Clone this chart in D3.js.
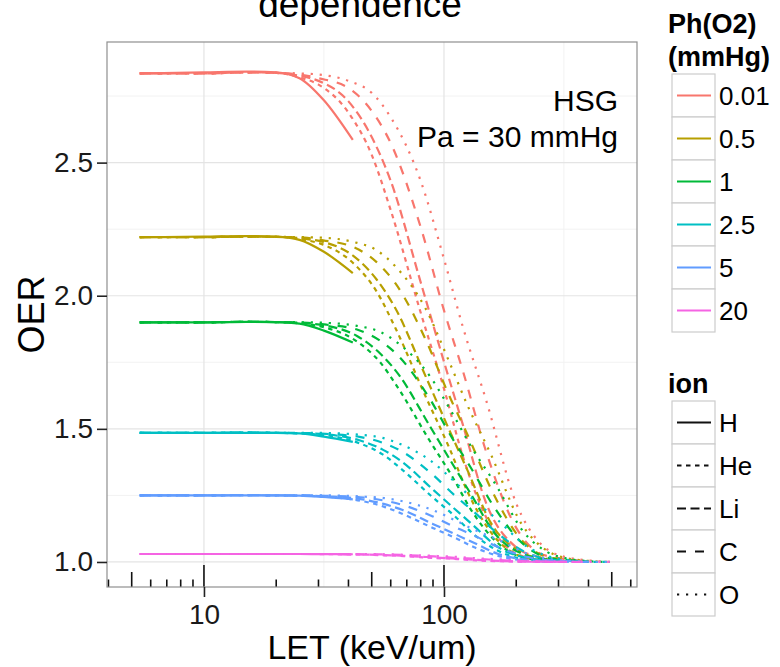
<!DOCTYPE html>
<html>
<head>
<meta charset="utf-8">
<script src="https://cdn.jsdelivr.net/npm/d3@7"></script>
<style>
  body { margin: 0; background: #fff; }
  text { font-family: "Liberation Sans", Arial, Helvetica, sans-serif; }
</style>
</head>
<body>
<svg id="chart" width="780" height="667"></svg>
<script>
// oxygen pressures (legend 1) and ions (legend 2)
const pressures = ["0.01", "0.5", "1", "2.5", "5", "20"];
const pressureColors = ["#F8766D", "#B79F00", "#00BA38", "#00BFC4", "#619CFF", "#F564E3"];
const ions = ["H", "He", "Li", "C", "O"];
const ionDashes = [null, "4.5,4.5", "9,4.5", "9,9", "2.2,6.8"];

// LET sample points (keV/um); H has its own short range
const letH = [5.4, 10, 15, 20, 25, 31.6, 41.7];
const letP001 = [5.4, 10, 15, 20, 25, 30, 40, 50, 60, 80, 100, 120, 150, 200, 250, 300, 400, 490];
const letP05 = [5.4, 10, 15, 20, 26.2, 31.4, 41.9, 52.4, 62.8, 83.8, 104.7, 125.6, 157, 209.4, 261.8, 314, 400, 490];
const letP1 = [5.4, 10, 15, 20, 27.1, 32.5, 43.4, 54.2, 65, 86.7, 108.4, 130, 162.6, 216.8, 271, 325, 400, 490];
const letP25 = [5.4, 10, 15, 20, 27.7, 33.3, 44.4, 55.5, 66.5, 88.7, 110.9, 133, 166.4, 221.8, 277, 333, 400, 490];
const letP5 = [5.4, 10, 15, 20, 28, 33.7, 44.9, 56.1, 67.3, 89.8, 112.2, 134.6, 168.3, 224.4, 280.5, 336.6, 400, 490];
const letP20 = [5.4, 10, 15, 20, 28.4, 34, 45.4, 56.8, 68.1, 90.8, 113.5, 136.2, 170.3, 227, 283.8, 340.5, 400, 490];

// OER per ion [H, He, Li, C, O] for each pressure
const oerP001 = [
  [2.835, 2.839, 2.842, 2.839, 2.817, 2.734, 2.585],
  [2.835, 2.835, 2.839, 2.837, 2.820, 2.793, 2.688, 2.529, 2.321, 1.936, 1.651, 1.395, 1.167, 1.031, 1.009],
  [2.835, 2.835, 2.839, 2.837, 2.826, 2.807, 2.730, 2.596, 2.431, 2.050, 1.752, 1.514, 1.220, 1.055, 1.018, 1.006],
  [2.835, 2.835, 2.839, 2.837, 2.831, 2.817, 2.780, 2.694, 2.573, 2.257, 1.945, 1.716, 1.413, 1.128, 1.033, 1.015, 1.002],
  [2.835, 2.835, 2.839, 2.837, 2.835, 2.831, 2.807, 2.762, 2.670, 2.431, 2.138, 1.881, 1.606, 1.220, 1.073, 1.026, 1.006, 1.000]
];
const oerP05 = [
  [2.220, 2.222, 2.224, 2.222, 2.210, 2.165, 2.085],
  [2.220, 2.220, 2.222, 2.221, 2.210, 2.192, 2.122, 2.016, 1.878, 1.622, 1.433, 1.262, 1.111, 1.021, 1.006],
  [2.220, 2.220, 2.222, 2.221, 2.214, 2.202, 2.150, 2.061, 1.952, 1.698, 1.500, 1.342, 1.146, 1.037, 1.012, 1.004],
  [2.220, 2.220, 2.222, 2.221, 2.218, 2.208, 2.183, 2.126, 2.046, 1.836, 1.628, 1.476, 1.275, 1.085, 1.022, 1.010, 1.001],
  [2.220, 2.220, 2.222, 2.221, 2.220, 2.218, 2.202, 2.171, 2.110, 1.952, 1.756, 1.586, 1.403, 1.146, 1.049, 1.017, 1.004, 1.000]
];
const oerP1 = [
  [1.900, 1.900, 1.902, 1.901, 1.895, 1.869, 1.824],
  [1.900, 1.900, 1.902, 1.901, 1.893, 1.879, 1.828, 1.750, 1.648, 1.459, 1.320, 1.194, 1.082, 1.015, 1.005],
  [1.900, 1.900, 1.902, 1.901, 1.896, 1.887, 1.849, 1.783, 1.702, 1.515, 1.369, 1.252, 1.108, 1.027, 1.009, 1.003],
  [1.900, 1.900, 1.902, 1.901, 1.898, 1.891, 1.873, 1.831, 1.771, 1.617, 1.464, 1.351, 1.203, 1.063, 1.016, 1.007, 1.001],
  [1.900, 1.900, 1.902, 1.901, 1.900, 1.898, 1.887, 1.864, 1.819, 1.702, 1.558, 1.432, 1.297, 1.108, 1.036, 1.013, 1.003, 1.000]
];
const oerP25 = [
  [1.485, 1.485, 1.485, 1.485, 1.483, 1.471, 1.451],
  [1.485, 1.485, 1.486, 1.485, 1.481, 1.474, 1.446, 1.404, 1.349, 1.247, 1.172, 1.104, 1.044, 1.008, 1.002],
  [1.485, 1.485, 1.486, 1.485, 1.483, 1.478, 1.457, 1.422, 1.378, 1.277, 1.199, 1.136, 1.058, 1.015, 1.005, 1.001],
  [1.485, 1.485, 1.486, 1.485, 1.484, 1.480, 1.470, 1.448, 1.416, 1.332, 1.250, 1.189, 1.109, 1.034, 1.009, 1.004, 1.000],
  [1.485, 1.485, 1.486, 1.485, 1.485, 1.484, 1.478, 1.466, 1.441, 1.378, 1.301, 1.233, 1.160, 1.058, 1.019, 1.007, 1.001, 1.000]
];
const oerP5 = [
  [1.250, 1.250, 1.250, 1.250, 1.249, 1.244, 1.235],
  [1.250, 1.250, 1.251, 1.250, 1.248, 1.244, 1.230, 1.208, 1.180, 1.128, 1.089, 1.054, 1.023, 1.004, 1.001],
  [1.250, 1.250, 1.251, 1.250, 1.249, 1.246, 1.236, 1.218, 1.195, 1.143, 1.103, 1.070, 1.030, 1.008, 1.003, 1.001],
  [1.250, 1.250, 1.251, 1.250, 1.250, 1.248, 1.243, 1.231, 1.214, 1.171, 1.129, 1.098, 1.056, 1.018, 1.005, 1.002, 1.000],
  [1.250, 1.250, 1.251, 1.250, 1.250, 1.250, 1.246, 1.240, 1.228, 1.195, 1.155, 1.120, 1.083, 1.030, 1.010, 1.004, 1.001, 1.000]
];
const oerP20 = [
  [1.030, 1.030, 1.030, 1.030, 1.030, 1.029, 1.029],
  [1.030, 1.030, 1.030, 1.030, 1.030, 1.029, 1.028, 1.025, 1.022, 1.015, 1.011, 1.006, 1.003, 1.001, 1.000],
  [1.030, 1.030, 1.030, 1.030, 1.030, 1.030, 1.028, 1.026, 1.023, 1.017, 1.012, 1.008, 1.004, 1.001, 1.000, 1.000],
  [1.030, 1.030, 1.030, 1.030, 1.030, 1.030, 1.029, 1.028, 1.026, 1.021, 1.015, 1.012, 1.007, 1.002, 1.001, 1.000, 1.000],
  [1.030, 1.030, 1.030, 1.030, 1.030, 1.030, 1.030, 1.029, 1.027, 1.023, 1.019, 1.014, 1.010, 1.004, 1.001, 1.000, 1.000, 1.000]
];

const letGrids = [letP001, letP05, letP1, letP25, letP5, letP20];
const oerTables = [oerP001, oerP05, oerP1, oerP25, oerP5, oerP20];

// axis breaks
const yTicks = [1.0, 1.5, 2.0, 2.5];
const yMinor = [1.25, 1.75, 2.25, 2.75];
const xTicks = [10, 100];
const xMinor = [31.6, 316];
const logTicks = [4, 5, 6, 7, 8, 9, 10, 20, 30, 40, 50, 60, 70, 80, 90, 100, 200, 300, 400, 500, 600];

const svg = d3.select("#chart");
const panel = { left: 107, right: 637, top: 42, bottom: 587 };

const x = d3.scaleLog().domain([3.945, 637]).range([panel.left, panel.right]);
const y = d3.scaleLinear().domain([0.906, 2.953]).range([panel.bottom, panel.top]);

// title (first line falls outside the image)
svg.append("text")
    .attr("x", 360).attr("y", 17)
    .attr("text-anchor", "middle")
    .style("font-size", "37px")
    .text("dependence");

// panel background + grid
svg.append("rect")
    .attr("x", panel.left).attr("y", panel.top)
    .attr("width", panel.right - panel.left).attr("height", panel.bottom - panel.top)
    .attr("fill", "#fff");

const grid = svg.append("g");
grid.selectAll(".ymin").data(yMinor).enter().append("line")
    .attr("x1", panel.left).attr("x2", panel.right)
    .attr("y1", d => y(d)).attr("y2", d => y(d))
    .attr("stroke", "#f2f2f2").attr("stroke-width", 1);
grid.selectAll(".xmin").data(xMinor).enter().append("line")
    .attr("x1", d => x(d)).attr("x2", d => x(d))
    .attr("y1", panel.top).attr("y2", panel.bottom)
    .attr("stroke", "#f2f2f2").attr("stroke-width", 1);
grid.selectAll(".ymaj").data(yTicks).enter().append("line")
    .attr("x1", panel.left).attr("x2", panel.right)
    .attr("y1", d => y(d)).attr("y2", d => y(d))
    .attr("stroke", "#e4e4e4").attr("stroke-width", 1.2);
grid.selectAll(".xmaj").data(xTicks).enter().append("line")
    .attr("x1", d => x(d)).attr("x2", d => x(d))
    .attr("y1", panel.top).attr("y2", panel.bottom)
    .attr("stroke", "#e4e4e4").attr("stroke-width", 1.2);

// curves
const line = d3.line()
    .x(d => x(d[0]))
    .y(d => y(d[1]))
    .curve(d3.curveMonotoneX);

const series = [];
pressures.forEach((p, pi) => {
  ions.forEach((ion, ii) => {
    const vals = oerTables[pi][ii];
    const lets = ii === 0 ? letH : letGrids[pi];
    series.push({
      color: pressureColors[pi],
      dash: ionDashes[ii],
      points: vals.map((v, j) => [lets[j], v])
    });
  });
});

svg.append("g").selectAll("path")
    .data(series)
  .enter().append("path")
    .attr("d", d => line(d.points))
    .attr("fill", "none")
    .attr("stroke", d => d.color)
    .attr("stroke-width", 2.2)
    .attr("stroke-dasharray", d => d.dash);

// annotation
svg.append("text").attr("x", 618).attr("y", 111)
    .attr("text-anchor", "end").style("font-size", "30px").text("HSG");
svg.append("text").attr("x", 618).attr("y", 147)
    .attr("text-anchor", "end").style("font-size", "30px").text("Pa = 30 mmHg");

// log ticks inside the panel along the bottom
svg.append("g").selectAll("line")
    .data(logTicks)
  .enter().append("line")
    .attr("x1", d => x(d)).attr("x2", d => x(d))
    .attr("y1", panel.bottom)
    .attr("y2", d => {
      const m = d / Math.pow(10, Math.floor(Math.log10(d) + 1e-9));
      const len = Math.abs(m - 1) < 1e-6 ? 22 : Math.abs(m - 5) < 1e-6 ? 15 : 7.5;
      return panel.bottom - len;
    })
    .attr("stroke", "#111").attr("stroke-width", 1.6);

// panel border
svg.append("rect")
    .attr("x", panel.left).attr("y", panel.top)
    .attr("width", panel.right - panel.left).attr("height", panel.bottom - panel.top)
    .attr("fill", "none").attr("stroke", "#8f8f8f").attr("stroke-width", 1.2);

// axes
const xAxis = svg.append("g")
    .attr("transform", `translate(0,${panel.bottom})`)
    .call(d3.axisBottom(x).tickValues(xTicks).tickFormat(d3.format("d")).tickSize(10).tickPadding(7));
const yAxis = svg.append("g")
    .attr("transform", `translate(${panel.left},0)`)
    .call(d3.axisLeft(y).tickValues(yTicks).tickFormat(d3.format(".1f")).tickSize(10).tickPadding(4));
[xAxis, yAxis].forEach(a => {
  a.select(".domain").remove();
  a.selectAll(".tick line").attr("stroke", "#222").attr("stroke-width", 1.6);
  a.selectAll(".tick text")
      .attr("fill", "#1a1a1a")
      .style("font-size", "28px")
      .style("font-family", "'Liberation Sans', Arial, sans-serif");
});

svg.append("text")
    .attr("x", (panel.left + panel.right) / 2).attr("y", 659)
    .attr("text-anchor", "middle").style("font-size", "34px")
    .text("LET (keV/um)");
svg.append("text")
    .attr("transform", `translate(44,${(panel.top + panel.bottom) / 2}) rotate(-90)`)
    .attr("text-anchor", "middle").style("font-size", "36px")
    .text("OER");

// legends
function addLegend(title, top, items) {
  const g = svg.append("g").attr("transform", `translate(672,${top})`);
  title.forEach((t, i) => {
    g.append("text").attr("x", -4).attr("y", -8 - (title.length - 1 - i) * 33)
        .style("font-size", "27px").style("font-weight", "bold").text(t);
  });
  const key = g.selectAll(".key").data(items).enter().append("g")
      .attr("transform", (d, i) => `translate(0,${i * 43})`);
  key.append("rect")
      .attr("width", 43).attr("height", 43)
      .attr("fill", "#fff").attr("stroke", "#cccccc").attr("stroke-width", 1.2);
  key.append("line")
      .attr("x1", 5).attr("x2", 39).attr("y1", 21.5).attr("y2", 21.5)
      .attr("stroke", d => d.color).attr("stroke-width", 2.2)
      .attr("stroke-dasharray", d => d.dash);
  key.append("text")
      .attr("x", 47).attr("y", 31)
      .style("font-size", "26px")
      .text(d => d.label);
}

addLegend(["Ph(O2)", "(mmHg)"], 74,
  pressures.map((p, i) => ({ label: p, color: pressureColors[i], dash: null })));
addLegend(["ion"], 401,
  ions.map((ion, i) => ({ label: ion, color: "#111", dash: ionDashes[i] })));
</script>
</body>
</html>
